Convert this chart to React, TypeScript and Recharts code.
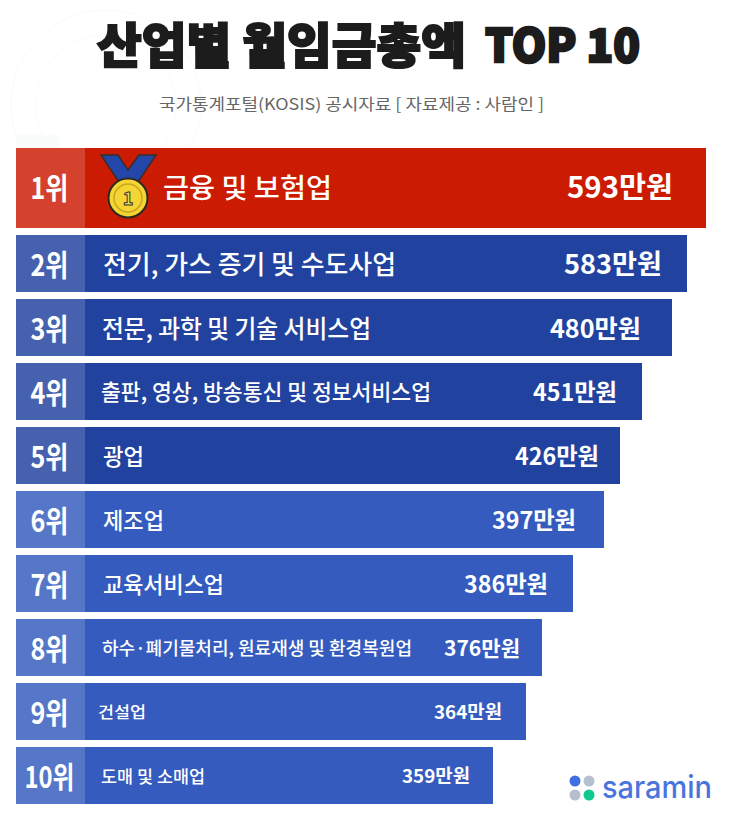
import { BarChart, Bar, XAxis, YAxis, Rectangle } from 'recharts';

const ranks = ['1위', '2위', '3위', '4위', '5위', '6위', '7위', '8위', '9위', '10위'];
const industries = [
  '금융 및 보험업',
  '전기, 가스 증기 및 수도사업',
  '전문, 과학 및 기술 서비스업',
  '출판, 영상, 방송통신 및 정보서비스업',
  '광업',
  '제조업',
  '교육서비스업',
  '하수·폐기물처리, 원료재생 및 환경복원업',
  '건설업',
  '도매 및 소매업',
];
const wageLabels = ['593만원', '583만원', '480만원', '451만원', '426만원', '397만원', '386만원', '376만원', '364만원', '359만원'];
// bar lengths as drawn in the infographic, they do not follow the printed wages
const barLengths = [690, 671, 656, 626, 604, 588, 557, 526, 510, 477];

const barColors = ['#cc1b03', '#21439f', '#21439f', '#21439f', '#21439f', '#345bbd', '#345bbd', '#345bbd', '#345bbd', '#345bbd'];
const nameSizes = [27, 26, 25, 22, 23, 23, 23, 18, 16, 17];
const nameOffsets = [147, 87, 86, 85, 87, 87, 87, 86, 82, 85];
const nameWidths = [169, 293, 269, 330, 41, 61, 121, 310, 48, 104];
const wageEnds = [673, 662, 641, 617, 599, 576, 548, 520, 502, 470];
const wageWidths = [106, 98, 91, 84, 84, 84, 84, 76, 68, 68];
const wageSizes = [29, 27, 25, 23.5, 23.5, 23.5, 23.5, 21, 19, 19];

const FONT = '"Noto Sans CJK KR", "Noto Sans", sans-serif';
const RANK_WIDTH = 69;
const LEFT = 16;
const MAX_LENGTH = 716;

const rows = ranks.map((rank, i) => ({
  rank,
  name: industries[i],
  wage: wageLabels[i],
  length: barLengths[i],
  idx: i,
}));

const Medal = ({ x, y }: { x: number; y: number }) => (
  <g transform={`translate(${x},${y})`}>
    <path d="M0 0 L17 0 L27 15 L38 0 L55 0 L35 30 L20 30 Z" fill="#2446a8" stroke="#33302a" strokeWidth={1.5} />
    <circle cx={27} cy={43} r={19.5} fill="#f5d533" stroke="#2b2a22" strokeWidth={2} />
    <circle cx={27} cy={43} r={14} fill="none" stroke="#c9a61f" strokeWidth={1.5} />
    <text x={27} y={50} textAnchor="middle" fontSize={18} fontWeight={700} fontFamily={FONT} fill="#f7e35c" stroke="#333" strokeWidth={1}>1</text>
  </g>
);

const RowShape = (props: any) => {
  const { x, y, width, height, payload } = props;
  const i = payload.idx;
  const cy = y + height / 2 + (i > 0 ? 1 : 0);
  return (
    <g>
      <Rectangle x={x} y={y} width={width} height={height} fill={barColors[i]} />
      <rect x={x} y={y} width={RANK_WIDTH} height={height} fill="#fff" opacity={0.17} />
      <text x={x + RANK_WIDTH / 2 - 1} y={cy + 11} textAnchor="middle" fontFamily={FONT} fontWeight={700} fontSize={30} fill="#fff"
        textLength={i === 9 ? 50 : 38} lengthAdjust="spacingAndGlyphs">{payload.rank}</text>
      {i === 0 && <Medal x={x + 85} y={y + 7} />}
      <text x={nameOffsets[i]} y={cy + nameSizes[i] * 0.36} fontFamily={FONT} fontWeight={500} fontSize={nameSizes[i]} fill="#fff"
        textLength={nameWidths[i]} lengthAdjust="spacingAndGlyphs">{payload.name}</text>
      <text x={wageEnds[i] - LEFT} y={cy + wageSizes[i] * 0.36} textAnchor="end" fontFamily={FONT} fontWeight={700} fontSize={wageSizes[i]} fill="#fff"
        textLength={wageWidths[i]} lengthAdjust="spacingAndGlyphs">{payload.wage}</text>
    </g>
  );
};

const RowChart = ({ data, top, height, barSize }: { data: typeof rows; top: number; height: number; barSize: number }) => (
  <div style={{ position: 'absolute', left: LEFT, top }}>
    <BarChart width={MAX_LENGTH} height={height} data={data} layout="vertical" barCategoryGap={0} margin={{ top: 0, right: 0, bottom: 0, left: 0 }}>
      <XAxis type="number" domain={[0, MAX_LENGTH]} hide />
      <YAxis type="category" dataKey="rank" hide />
      <Bar dataKey="length" barSize={barSize} isAnimationActive={false} shape={RowShape} />
    </BarChart>
  </div>
);

export default function App() {
  return (
    <div style={{ position: 'absolute', left: 0, top: 0, width: 732, height: 815, background: '#fff', overflow: 'hidden', fontFamily: FONT }}>
      <svg width={732} height={148} style={{ position: 'absolute', left: 0, top: 0 }}>
        <circle cx={106} cy={105} r={95} fill="none" stroke="#fafafa" />
        <circle cx={106} cy={105} r={70} fill="none" stroke="#fbfbfb" />
        <rect x={16} y={135} width={44} height={13} fill="#fafbfb" />
        <text x={97} y={63} fontFamily={FONT} fontWeight={900} fontSize={48} fill="#1c1c1c" stroke="#1c1c1c" strokeWidth={2}
          textLength={369} lengthAdjust="spacingAndGlyphs">산업별 월임금총액</text>
        <text x={485} y={62} fontFamily={FONT} fontWeight={900} fontSize={46} fill="#1c1c1c" stroke="#1c1c1c" strokeWidth={2.5}
          textLength={155} lengthAdjust="spacingAndGlyphs">TOP 10</text>
        <text x={159} y={110} fontFamily={FONT} fontSize={16} fill="#666" textLength={385} lengthAdjust="spacingAndGlyphs">국가통계포털(KOSIS) 공시자료 [ 자료제공 : 사람인 ]</text>
      </svg>
      <RowChart data={rows.slice(0, 1)} top={147} height={82} barSize={80} />
      <RowChart data={rows.slice(1)} top={230.5} height={576} barSize={57} />
      <svg width={167} height={55} style={{ position: 'absolute', left: 565, top: 760 }}>
        <circle cx={10} cy={21} r={5.5} fill="#3f6fe0" />
        <circle cx={24} cy={21} r={5.5} fill="#b5bfd0" />
        <circle cx={10} cy={35} r={5.5} fill="#b5bfd0" />
        <circle cx={24} cy={35} r={5.5} fill="#10c98f" />
        <text x={37} y={38} fontFamily='"Inter", sans-serif' fontWeight={500} fontSize={31} fill="#4a74dd" textLength={110} lengthAdjust="spacingAndGlyphs">saramin</text>
      </svg>
    </div>
  );
}
